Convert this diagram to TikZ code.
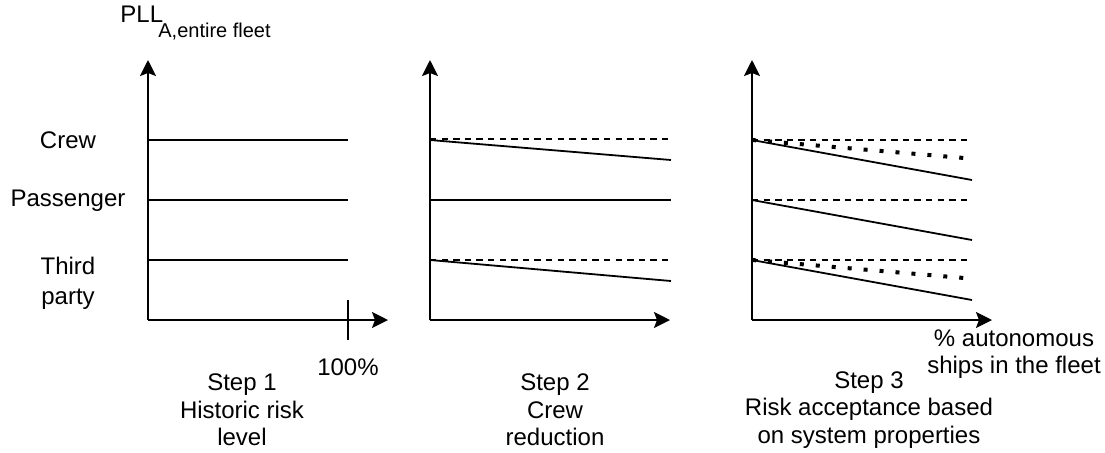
\documentclass[tikz,border=0pt]{standalone}
\usepackage{fontspec}
\setmainfont{Liberation Sans}
\usetikzlibrary{arrows.meta}
\begin{document}
\begin{tikzpicture}[x=0.5pt,y=-0.5pt,
  axis/.style={line width=1pt,-{Stealth[length=8pt,width=8pt,inset=1.5pt]}},
  level/.style={line width=0.9pt},
  base/.style={line width=0.9pt,dash pattern=on 3.2pt off 2.6pt},
  reduced/.style={line width=2pt,dash pattern=on 2pt off 6pt},
  lbl/.style={font=\fontsize{12}{13.8}\selectfont,align=center,inner sep=0pt},
  small/.style={font=\fontsize{10}{12}\selectfont,inner sep=0pt}]
\useasboundingbox (0,0) rectangle (1105,452);

% ---------- axes ----------
\foreach \n/\x in {a/148,b/430,c/752}{
  \coordinate (\n0) at (\x,320);
  \coordinate (\n top) at (\x,60);
  \coordinate (\n right) at (\x+240,320);
  \draw[axis] (\n0) -- (\n top);
  \draw[axis] (\n0) -- (\n right);
}
\coordinate (tickt) at (348,300);
\coordinate (tickb) at (348,340);
\draw[line width=1pt] (tickt) -- (tickb);

% ---------- panel 1: historic levels ----------
\foreach \y [count=\i] in {140,200,260}{
  \coordinate (a\i) at (148,\y);
  \coordinate (a\i e) at (348,\y);
  \draw[level] (a\i) -- (a\i e);
}

% ---------- panel 2: crew reduction ----------
\foreach \y [count=\i] in {140,200,260}{
  \coordinate (b\i) at (430,\y);
}
\coordinate (b1d) at (668,139);
\coordinate (b1s) at (671,160);
\coordinate (b2s) at (671,200);
\coordinate (b3d) at (668,260);
\coordinate (b3s) at (671,281);
\draw[base] (b1) ++(0,-1) -- (b1d);
\draw[level] (b1) -- (b1s);
\draw[level] (b2) -- (b2s);
\draw[base] (b3) -- (b3d);
\draw[level] (b3) -- (b3s);

% ---------- panel 3: acceptance based on system properties ----------
\foreach \y [count=\i] in {140,200,260}{
  \coordinate (c\i) at (752,\y);
  \coordinate (c\i d) at (972,\y);
  \coordinate (c\i s) at (972,\y+40);
  \coordinate (c\i p) at (964,\y+18);
  \draw[base] (c\i) -- (c\i d);
  \draw[level] (c\i) -- (c\i s);
}
\draw[reduced] (c1) -- (c1p);
\draw[reduced] (c3) -- (c3p);

% ---------- labels ----------
\node[lbl,anchor=base west] (pll) at (120,22) {PLL};
\node[small,anchor=base west] (pllsub) at (158,37) {A,entire fleet};
\node[lbl] (crew) at (68,140) {Crew};
\node[lbl] (pass) at (68,201) {Passenger};
\node[lbl,font=\fontsize{12}{15}\selectfont] (third) at (68,283) {Third\\party};
\node[lbl] (full) at (348,367) {100\%};
\node[lbl] (s1) at (242,410) {Step 1\\Historic risk\\level};
\node[lbl] (s2) at (555,410) {Step 2\\Crew\\reduction};
\node[lbl] (s3) at (869,410) {Step 3\\Risk acceptance based\\on system properties};
\node[lbl] (xlab) at (1014,354) {\% autonomous\\ships in the fleet};
\end{tikzpicture}
\end{document}
